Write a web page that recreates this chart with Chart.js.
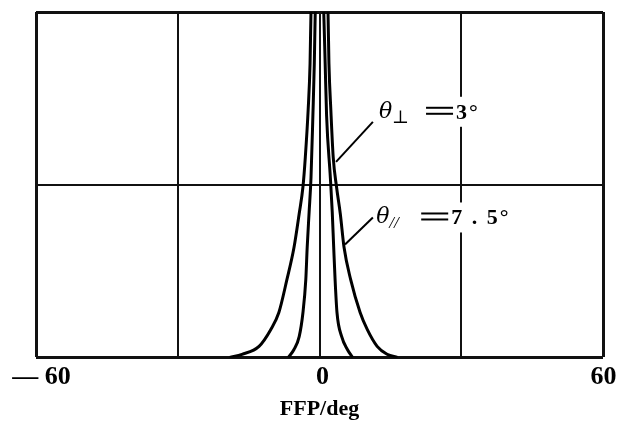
<!DOCTYPE html>
<html>
<head>
<meta charset="utf-8">
<title>FFP</title>
<script src="https://cdn.jsdelivr.net/npm/chart.js@4.4.1/dist/chart.umd.min.js"></script>
<style>
    body { margin: 0; background: #fff; }
    canvas { display: block; }
</style>
</head>
<body>
<canvas id="myChart" width="625" height="423"></canvas>
<script>
// Far-field pattern values (angle in deg, relative intensity)
const outerX = [-19, -16.4, -12.8, -10.3, -8.6, -6.9, -5.4, -4.3, -3.5, -3.0, -2.4, -2.0, -1.8, 0, 1.8, 2.0, 2.4, 2.9, 3.6, 4.4, 5.2, 6.6, 8.6, 10.1, 12.2, 14.3, 16.5];
const outerY = [0, 0.009, 0.032, 0.081, 0.13, 0.225, 0.318, 0.416, 0.494, 0.58, 0.717, 0.85, 1.0, 1.3, 1.0, 0.85, 0.717, 0.58, 0.494, 0.416, 0.318, 0.225, 0.13, 0.081, 0.032, 0.009, 0];

const innerX = [-6.6, -5.4, -4.3, -3.5, -2.9, -2.6, -2.2, -1.8, -1.4, -1.1, -0.9, 0, 0.9, 1.2, 1.5, 2.3, 2.7, 3.0, 3.3, 3.7, 4.7, 5.9, 7.0];
const innerY = [0, 0.023, 0.06, 0.13, 0.225, 0.32, 0.42, 0.52, 0.7, 0.85, 1.0, 1.3, 1.0, 0.85, 0.7, 0.52, 0.42, 0.32, 0.225, 0.13, 0.06, 0.023, 0];

const xTicks = [-60, -30, 0, 30, 60];
const xTickLabels = ['\u2009\u2014 60', '', '0', '', '60\u2009'];

// Labels with leader lines, placed in data coordinates
const labelNames = ['\u22a5', '//'];
const labelValues = ['3\u00b0', '7 . 5\u00b0'];
const labelPos = [[12.6, 0.714], [12.0, 0.408]];
const leaderFrom = [[3.5, 0.566], [5.4, 0.327]];
const leaderTo = [[11.3, 0.682], [11.3, 0.405]];

function toPoints(xs, ys) {
    const pts = [];
    for (let i = 0; i < xs.length; i++) {
        pts.push({ x: xs[i], y: ys[i] });
    }
    return pts;
}

// Draw the theta labels and their leader lines
const labelPlugin = {
    id: 'thetaLabels',
    afterDatasetsDraw(chart) {
        const ctx = chart.ctx;
        const xs = chart.scales.x;
        const ys = chart.scales.y;
        ctx.save();
        for (let i = 0; i < labelPos.length; i++) {
            // leader line
            ctx.strokeStyle = '#000';
            ctx.lineWidth = 2;
            ctx.beginPath();
            ctx.moveTo(xs.getPixelForValue(leaderFrom[i][0]), ys.getPixelForValue(leaderFrom[i][1]));
            ctx.lineTo(xs.getPixelForValue(leaderTo[i][0]), ys.getPixelForValue(leaderTo[i][1]));
            ctx.stroke();

            const px = xs.getPixelForValue(labelPos[i][0]);
            const py = ys.getPixelForValue(labelPos[i][1]);
            const fTheta = 'italic 22px "DejaVu Serif"';
            const fSub = i === 0 ? '18px "DejaVu Serif"' : 'italic 17px "Liberation Serif"';
            const fMain = 'bold 22px "Liberation Serif"';
            const eqX = i === 0 ? 47 : 45;
            const valX = i === 0 ? 77 : 75;

            ctx.font = fMain;
            ctx.letterSpacing = '2px';
            const wVal = ctx.measureText(labelValues[i]).width;

            // white box hides the grid line under the text
            ctx.fillStyle = '#fff';
            ctx.fillRect(px - 2, py - 14, valX + wVal + 4, 30);

            ctx.fillStyle = '#000';
            ctx.textBaseline = 'alphabetic';
            ctx.fillText(labelValues[i], px + valX, py + 8);
            ctx.letterSpacing = '0px';

            ctx.font = fTheta;
            ctx.fillText('\u03b8', px, py + 7);
            ctx.font = fSub;
            ctx.fillText(labelNames[i], px + 13, py + 12);

            // wide equals sign
            ctx.fillRect(px + eqX, py - 4, 27, 2);
            ctx.fillRect(px + eqX, py + 2, 27, 2);
        }
        ctx.restore();
    }
};

const ctxChart = document.getElementById('myChart');

new Chart(ctxChart, {
    type: 'line',
    data: {
        datasets: [
            {
                label: 'theta parallel',
                data: toPoints(outerX, outerY),
                borderColor: '#000',
                borderWidth: 3,
                pointRadius: 0,
                fill: false,
                cubicInterpolationMode: 'monotone',
                clip: 0
            },
            {
                label: 'theta perp',
                data: toPoints(innerX, innerY),
                borderColor: '#000',
                borderWidth: 3,
                pointRadius: 0,
                fill: false,
                cubicInterpolationMode: 'monotone',
                clip: 0
            }
        ]
    },
    options: {
        responsive: false,
        animation: false,
        layout: {
            padding: { left: 36, right: 22, top: 12, bottom: 0 }
        },
        plugins: {
            legend: { display: false },
            tooltip: { enabled: false }
        },
        scales: {
            x: {
                type: 'linear',
                min: -60,
                max: 60,
                afterBuildTicks: function(axis) {
                    axis.ticks = xTicks.map(v => ({ value: v }));
                },
                grid: {
                    color: '#111',
                    lineWidth: c => (Math.abs(c.tick.value) === 60 ? 3 : 2),
                    drawTicks: false
                },
                border: { display: false },
                ticks: {
                    autoSkip: false,
                    maxRotation: 0,
                    padding: 4,
                    labelOffset: 3,
                    color: '#000',
                    font: { family: 'Liberation Serif', weight: 'bold', size: 26 },
                    callback: function(value) {
                        return xTickLabels[xTicks.indexOf(value)];
                    }
                },
                title: {
                    display: true,
                    text: 'FFP/deg',
                    color: '#000',
                    padding: { top: 0, bottom: 0 },
                    font: { family: 'Liberation Serif', weight: 'bold', size: 22 }
                }
            },
            y: {
                min: 0,
                max: 1,
                ticks: { display: false, stepSize: 0.5 },
                grid: {
                    color: '#111',
                    lineWidth: c => (c.tick.value === 0.5 ? 2 : 3),
                    drawTicks: false
                },
                border: { display: false }
            }
        }
    },
    plugins: [labelPlugin]
});
</script>
</body>
</html>
